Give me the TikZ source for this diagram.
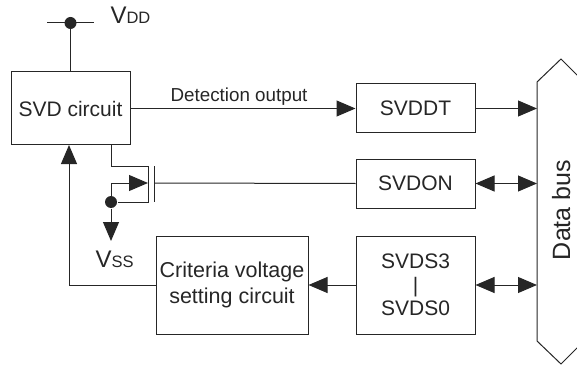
\documentclass[tikz,border=0pt]{standalone}
\usepackage{fontspec}
\setmainfont{Liberation Sans}
\usepackage{tikz}
\usetikzlibrary{arrows.meta,positioning,calc}
\newcommand{\bigfont}{\fontsize{24}{24}\selectfont}
\newcommand{\subfont}{\fontsize{16.5}{16.5}\selectfont}

\begin{document}
\begin{tikzpicture}[
        x=1pt, y=-1pt,
        line width=1pt,
        color=black!85,
        % Global Styles
        block/.style={rectangle, draw, align=center, inner sep=0pt, minimum width=119pt, font=\fontsize{21}{23.5}\selectfont},
        label/.style={inner sep=0pt, text=black!85},
        dot/.style={circle, fill, inner sep=0pt, minimum size=12pt},
        arrow/.style={-{Triangle[length=19pt,width=16pt]}},
        biarrow/.style={{Triangle[length=19pt,width=16pt]}-{Triangle[length=19pt,width=16pt]}}
    ]
    \useasboundingbox (0,0) rectangle (577,366);

    % --- Column 1: SVD circuit and supply ---
    \node (svd) [block, minimum height=73pt] at (70.5,108.5) {SVD circuit};
    \node (vddDot) [dot] at (70.5,23) {};
    \coordinate (vddL) at (47,23);
    \coordinate (vddR) at (94,23);
    \node (vdd) [label, anchor=base west] at (110,24) {\bigfont V\subfont DD};

    % --- Column 2: Registers ---
    \node (svddt) [block, minimum height=49pt] at (415.5,108.5) {SVDDT};
    \node (svdon) [block, minimum height=49pt, below=25pt of svddt] {SVDON};
    \node (svds) [block, minimum height=98pt, below=27pt of svdon] {SVDS3\\|\\SVDS0};
    \node (crit) [block, minimum width=152pt, minimum height=98pt, font=\fontsize{21.5}{26}\selectfont, left=47pt of svds] {Criteria voltage\\setting circuit};
    \node (detect) [label, font=\fontsize{18.8}{20}\selectfont, anchor=base] at (239,102) {Detection output};

    % --- MOS transistor ---
    \coordinate (gate) at (154,183);
    \coordinate (gateT) at (154,166);
    \coordinate (gateB) at (154,202);
    \coordinate (chanT) at (148,166);
    \coordinate (chanB) at (148,202);
    \coordinate (chanM) at (148,183);
    \node (srcDot) [dot] at (111,202) {};
    \node (vss) [label, anchor=base west] at (95,267) {\bigfont V\subfont SS};
    \coordinate (vssTip) at (111,241);

    % --- Data bus ---
    \coordinate (busTop) at (537,82);
    \coordinate (busBot) at (537,341);
    \coordinate (busApexT) at (561,59);
    \coordinate (busApexB) at (561,364);
    \node (bus) [label, rotate=90, font=\fontsize{25}{28}\selectfont, anchor=base] at (570,210) {Data bus};
    \draw (590,88) -- (busApexT) -- (busTop) -- (busBot) -- (busApexB) -- (590,335);

    % --- CONNECTION LOGIC ---
    \draw (vddL) -- (vddR);
    \draw (vddDot) -- (svd.north -| vddDot);
    \draw [arrow] (svd.east) -- (svddt.west);

    % Transistor wiring
    \draw (svdon.west) -- (gate);
    \draw (gateT) -- (gateB);
    \draw (svd.south -| srcDot) -- (srcDot |- chanT) -- (chanT) -- (chanB) -- (srcDot);
    \draw [arrow] (srcDot) -- (srcDot |- chanM) -- (chanM);
    \draw [arrow] (srcDot) -- (vssTip);

    % Bus side
    \draw [arrow] (svddt.east) -- (svddt.east -| busTop);
    \draw [biarrow] (svdon.east) -- (svdon.east -| busTop);
    \draw [biarrow] (svds.east) -- (svds.east -| busTop);

    % Criteria loop
    \draw [arrow] (svds.west) -- (crit.east);
    \draw [arrow] (crit.west) -| (69,145);

    \end{tikzpicture}
\end{document}
